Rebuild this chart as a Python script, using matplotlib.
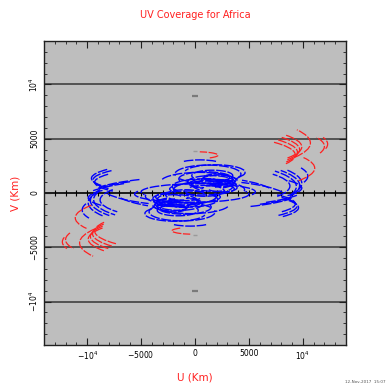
import numpy as np
import matplotlib
matplotlib.use("Agg")
import matplotlib.pyplot as plt
from matplotlib.patches import Arc

# ---- uv tracks (km) ----
# ellipse centre (u0, v0), semi-axes (a, b) and the covered range of the
# eccentric angle (t1 -> t2, degrees). Every track is also drawn mirrored
# through the origin, as its conjugate (-u, -v).

# inner tracks (short baselines)
inner_u0 = [1200, 1850, 460, 650, 300, 1500, 1800, 1000, 2200, 700,
            1300, 2500, 400, 1600, 900, 2000, 1100, 2600]
inner_v0 = [1740, 1900, 2300, 370, 100, 1000, 700, 1300, 1200, 600,
            300, 500, 1000, 1600, 200, 1400, 900, 900]
inner_a = [3060, 2800, 2600, 3000, 5300, 2200, 2000, 2500, 1600, 2800,
           3300, 1400, 3600, 1900, 1800, 1200, 1500, 1000]
inner_b = [830, 700, 750, 550, 750, 600, 550, 650, 450, 700,
           800, 400, 900, 500, 500, 350, 420, 300]
inner_t1 = [-150, -40, 55, -120, -20, -60, 0, -90, -120, -30,
            -10, -150, 10, -100, -170, -160, -60, -170]
inner_t2 = [190, 170, 125, 200, 200, 250, 300, 200, 180, 220,
            200, 150, 170, 200, 140, 170, 260, 160]

# outer tracks (long baselines), given on the negative-u side
outer_u0 = [0, 0, 0, 0, 0, 0, 0, 0, 0, 0, 0, 0, 0, 0]
outer_v0 = [1200, 1000, 1350, -700, -600, -900, -640, -1560, -600, -450,
            -750, 300, -460, 500]
outer_a = [9450, 9300, 9600, 9700, 9400, 9900, 8800, 10460, 10500, 10300,
           10700, 7600, 9900, 8600]
outer_b = [1500, 1450, 1550, 2400, 2300, 2400, 1900, 2200, 2000, 1950,
           2050, 1800, 1400, 1700]
outer_t1 = [145, 150, 148, 155, 160, 160, 150, 165, 125, 120,
            128, 205, 150, 200]
outer_t2 = [212, 215, 205, 215, 218, 210, 215, 200, 150, 148,
            152, 235, 210, 240]

# red tracks
red_u0 = [0, 0, 0, 0, 0, 0, 0, 0, 0]
red_v0 = [3500, 3750, 4000, 4250, 4600, 4300, 4500, 2290, 3480]
red_a = [9300, 9500, 9700, 9900, 10700, 12000, 12300, 11100, 2130]
red_b = [1900, 1950, 2000, 2050, 2600, 2400, 2400, 2300, 320]
red_t1 = [-25, -27, -28, -30, -30, -15, -10, -30, -50]
red_t2 = [38, 36, 34, 32, 28, 20, 15, 25, 78]

# small reference marks on the v axis
mark_v = [8900, -9000]
faint_mark_v = [3900, -3900]

# axis ticks and labels
major_ticks = [-10000, -5000, 0, 5000, 10000]
x_tick_labels = [r"$-10^4$", r"$-5000$", "0", "5000", r"$10^4$"]
y_tick_labels = [r"$-10^4$", r"$-5000$", "0", "5000", r"$10^4$"]
grid_levels = [-10000, -5000, 5000, 10000]
axis_limit = 14000

fig = plt.figure(figsize=(3.88, 3.92), dpi=100)
ax = fig.add_axes([44 / 388, 47 / 392, 302 / 388, 304 / 392])
ax.set_facecolor("#bebebe")
ax.set_xlim(-axis_limit, axis_limit)
ax.set_ylim(-axis_limit, axis_limit)

for lev in grid_levels:
    ax.axhline(lev, color="#4a4a4a", lw=1.3, zorder=1)
ax.axhline(0, color="black", lw=1.2, zorder=1)
zero_ticks = np.arange(-13000, 14000, 1000)
ax.plot(zero_ticks, np.zeros_like(zero_ticks), ls="none", marker="|",
        ms=5, mew=0.8, color="black", zorder=1)

ax.plot(np.zeros(len(mark_v)), mark_v, ls="none", marker="_", ms=4,
        mew=1.6, color="#7a7a7a", zorder=1)
ax.plot(np.zeros(len(faint_mark_v)), faint_mark_v, ls="none", marker="_",
        ms=3, mew=1.0, color="#9a9a9a", zorder=1)

dash = (0, (7, 1.2))


def polar_angle(a, b, t):
    """Arc() takes polar angles; convert an eccentric angle."""
    tr = np.deg2rad(t)
    return np.rad2deg(np.arctan2(b * np.sin(tr), a * np.cos(tr)))


def draw_tracks(u0s, v0s, aa, bb, t1s, t2s, color, lw=1.0):
    for u0, v0, a, b, t1, t2 in zip(u0s, v0s, aa, bb, t1s, t2s):
        for sgn in (1, -1):
            shift = 0 if sgn > 0 else 180
            th1 = polar_angle(a, b, t1 + shift)
            th2 = polar_angle(a, b, t2 + shift)
            span = (th2 - th1) % 360
            if span == 0:
                span = 359.9
            arc = Arc((sgn * u0, sgn * v0), 2 * a, 2 * b,
                      theta1=th1, theta2=th1 + span,
                      color=color, lw=lw, linestyle=dash, zorder=3)
            ax.add_patch(arc)


draw_tracks(inner_u0, inner_v0, inner_a, inner_b, inner_t1, inner_t2, "#0000ff")
draw_tracks(outer_u0, outer_v0, outer_a, outer_b, outer_t1, outer_t2, "#0000ff")
draw_tracks(red_u0, red_v0, red_a, red_b, red_t1, red_t2, "#ff2020", lw=0.9)

ax.set_xticks(major_ticks)
ax.set_yticks(major_ticks)
ax.set_xticks(np.arange(-13000, 14000, 1000), minor=True)
ax.set_yticks(np.arange(-13000, 14000, 1000), minor=True)
ax.set_xticklabels(x_tick_labels, fontsize=5.5)
ax.set_yticklabels(y_tick_labels, fontsize=5.5, rotation=90, va="center")
ax.tick_params(which="both", direction="in", top=True, right=True, color="#202020")
ax.tick_params(which="major", length=5, width=0.8, pad=3)
ax.tick_params(which="minor", length=2.5, width=0.6)
for sp in ax.spines.values():
    sp.set_color("#202020")
    sp.set_linewidth(1.0)

fig.text(195 / 388, 1 - 15 / 392, "UV Coverage for Africa", color="#ff2020",
         fontsize=7, ha="center", va="center")
fig.text(195 / 388, 1 - 377 / 392, "U (Km)", color="#ff2020",
         fontsize=7.5, ha="center", va="center")
fig.text(15 / 388, 1 - 193 / 392, "V (Km)", color="#ff2020",
         fontsize=7.5, ha="center", va="center", rotation=90)
fig.text(386 / 388, 1 - 382 / 392, "12-Nov-2017  15:07", color="#555555",
         fontsize=3, ha="right", va="center")

fig.savefig("out.png", dpi=100, facecolor="white")
